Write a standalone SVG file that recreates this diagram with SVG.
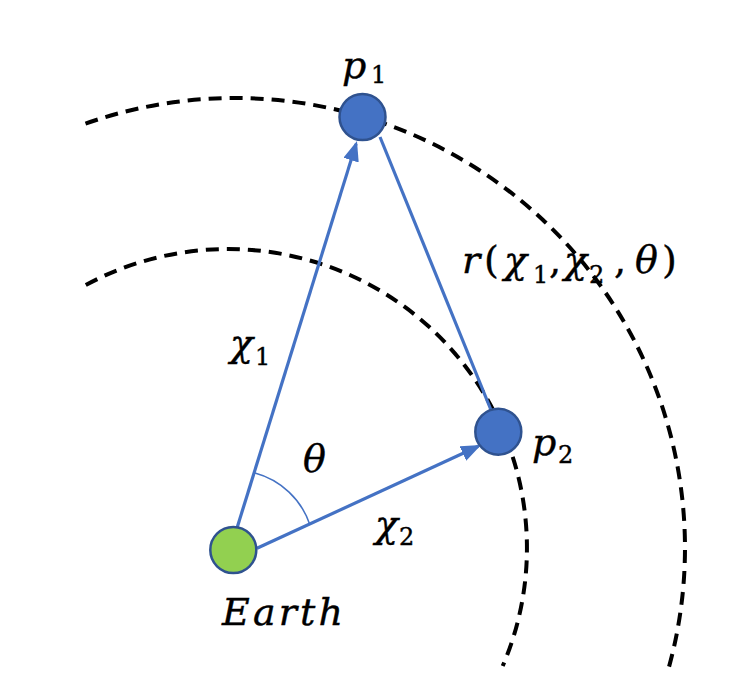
<svg xmlns="http://www.w3.org/2000/svg" width="739" height="694" viewBox="0 0 739 694">
<defs>
<style>
.orbit{fill:none;stroke:#000;stroke-width:4;stroke-dasharray:13 8}
.vec{fill:none;stroke:#4472C4;stroke-width:3.2}
.ang{fill:none;stroke:#4472C4;stroke-width:1.5}
.planet{stroke:#2F528F;stroke-width:2.5}
.m{font-family:"DejaVu Serif","Liberation Serif",serif;font-size:38px;fill:#000;stroke:#000;stroke-width:0.4}
.i{font-style:italic}
.s{font-size:24px;font-style:normal}
.u{font-style:normal}
</style>
<marker id="arr" markerUnits="userSpaceOnUse" markerWidth="22" markerHeight="18" refX="17" refY="8" orient="auto">
<path d="M0,0 L20,8 L0,16 z" fill="#4472C4"/>
</marker>
</defs>
<rect width="739" height="694" fill="#fff"/>
<g id="orbits">
<path class="orbit" d="M 85.5 123.6 A 450 450 0 0 1 668.2 669.8"/>
<path class="orbit" d="M 85.8 285 A 299 299 0 0 1 502.7 666"/>
</g>
<g id="connectors">
<line class="vec" x1="237" y1="528" x2="356.1" y2="143.9" marker-end="url(#arr)"/>
<line class="vec" x1="257" y1="548.3" x2="478.3" y2="446.3" marker-end="url(#arr)"/>
<line class="vec" x1="380" y1="137" x2="491" y2="410"/>
<path class="ang" d="M 255 473 A 80 80 0 0 1 310 525"/>
</g>
<g id="earth">
<circle class="planet" cx="233.3" cy="550" r="23" fill="#92D050"/>
<text class="m i" x="222" y="625" font-size="40" textLength="121" lengthAdjust="spacing">Earth</text>
</g>
<g id="p1">
<circle class="planet" cx="362.5" cy="117" r="23" fill="#4472C4"/>
<text class="m"><tspan class="i" x="342" y="78">p</tspan><tspan class="s" x="371" y="83">1</tspan></text>
</g>
<g id="p2">
<circle class="planet" cx="498.3" cy="431.7" r="23" fill="#4472C4"/>
<text class="m"><tspan class="i" x="532" y="455">p</tspan><tspan class="s" x="558" y="463">2</tspan></text>
</g>
<g id="labels">
<text class="m"><tspan class="i" x="230" y="356">χ</tspan><tspan class="s" x="255" y="365">1</tspan></text>
<text class="m i" x="303" y="472">θ</text>
<text class="m"><tspan class="i" x="375" y="537">χ</tspan><tspan class="s" x="399" y="545">2</tspan></text>
<text class="m"><tspan class="i" x="462" y="273">r</tspan><tspan class="u" x="484" y="273">(</tspan><tspan class="i" x="504" y="273">χ</tspan><tspan class="s" x="533" y="283">1</tspan><tspan class="u" x="549" y="273">,</tspan><tspan class="i" x="564" y="273">χ</tspan><tspan class="s" x="589" y="283">2</tspan><tspan class="u" x="614" y="273">,</tspan><tspan class="i" x="635" y="273">θ</tspan><tspan class="u" x="662" y="273">)</tspan></text>
</g>
</svg>
